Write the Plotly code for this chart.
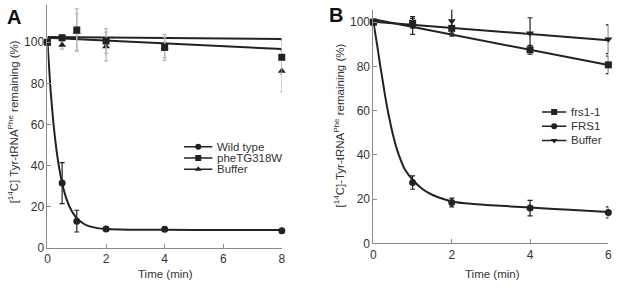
import plotly.graph_objects as go

W, H = 617, 289
FONT = "Arial, Liberation Sans, sans-serif"
DARK = "#222222"
AXC = "#8a8a8a"
TXT = "#333333"

# ---------------- Panel A data ----------------
a_time_wt = [0, 0.5, 1, 2, 4, 8]
a_wt = [100, 31.5, 13, 9.2, 9.0, 8.3]
a_wt_err = [0, 10, 5.3, 0.8, 1.0, 0.5]

a_time_sq = [0, 0.5, 1, 2, 4, 8]
a_sq = [100, 102.2, 106, 100.6, 97.5, 92.7]
a_sq_err = [0, 1.5, 10.3, 6, 6.3, 8.3]

a_time_tri = [0, 0.5, 1, 2, 4, 8]
a_tri = [100, 98.7, 105, 98, 97.5, 86]
a_tri_err = [0, 2, 9, 7, 5, 10]

# fitted curves
a_fit_wt_t = [0, 0.1, 0.2, 0.3, 0.4, 0.5, 0.6, 0.75, 1.0, 1.25, 1.5, 2, 2.5, 3, 4, 6, 8]
a_fit_wt_y = [100, 77.8, 61.1, 48.4, 38.8, 31.5, 26.0, 20.1, 14.4, 11.6, 10.2, 9.15, 8.9, 8.8, 8.75, 8.7, 8.7]
a_fit_sq_t = [0, 8]
a_fit_sq_y = [102.2, 96.7]
a_fit_tri_t = [0, 8]
a_fit_tri_y = [102.6, 101.6]

a_legend = ["Wild type", "pheTG318W", "Buffer"]
a_symbols = ["circle", "square", "triangle-up"]

# ---------------- Panel B data ----------------
b_time = [0, 1, 2, 4, 6]
b_frs11 = [100, 99.5, 97.2, 87.5, 80.7]
b_frs11_err = [0, 2.2, 3.5, 2, 4]
b_FRS1 = [100, 27.5, 18.5, 16, 14]
b_FRS1_err = [0, 3, 2, 3.5, 2.5]
b_buf = [100, 98.5, 100.5, 95, 92.3]
b_buf_err = [0, 4, 5.5, 7, 6.5]

b_fit_frs11_t = [0, 6]
b_fit_frs11_y = [101.3, 80.6]
b_fit_buf_t = [0, 6]
b_fit_buf_y = [100.2, 91.8]
b_fit_FRS1_t = [0, 0.05, 0.1, 0.15, 0.2, 0.3, 0.4, 0.5, 0.6, 0.7, 0.8, 1.0, 1.25, 1.5, 1.75, 2, 2.5, 3, 4, 5, 6]
b_fit_FRS1_y = [100, 94.5, 89, 83, 77.5, 66.5, 57, 49, 42.5, 37.5, 33.5, 28.8, 24.6, 22.0, 20.3, 19.0, 17.9, 17.3, 16.2, 15.2, 14.2]

b_legend = ["frs1-1", "FRS1", "Buffer"]
b_symbols = ["square", "circle", "triangle-down"]

fig = go.Figure()


def fit(x, y, xa, ya, shape="linear"):
    fig.add_trace(go.Scatter(x=x, y=y, mode="lines", xaxis=xa, yaxis=ya,
                             line=dict(color=DARK, width=2, shape=shape, smoothing=0.6),
                             showlegend=False, hoverinfo="skip"))


def pts(x, y, err, sym, xa, ya, ecolor=DARK, ew=2.5, size=7):
    fig.add_trace(go.Scatter(x=x, y=y, mode="markers", xaxis=xa, yaxis=ya,
                             marker=dict(symbol=sym, size=size, color=DARK),
                             error_y=dict(type="data", array=err, visible=True,
                                          color=ecolor, thickness=1.2, width=ew),
                             cliponaxis=False, showlegend=False))


# Panel A
fit(a_fit_wt_t, a_fit_wt_y, "x", "y", "spline")
fit(a_fit_sq_t, a_fit_sq_y, "x", "y")
fit(a_fit_tri_t, a_fit_tri_y, "x", "y")
pts(a_time_wt, a_wt, a_wt_err, "circle", "x", "y")
pts(a_time_tri, a_tri, a_tri_err, "triangle-up", "x", "y", ecolor="#b5b5b5", ew=2)
pts(a_time_sq, a_sq, a_sq_err, "square", "x", "y", ecolor="#b5b5b5", ew=2)

# Panel B
fit(b_fit_FRS1_t, b_fit_FRS1_y, "x2", "y2", "spline")
fit(b_fit_frs11_t, b_fit_frs11_y, "x2", "y2")
fit(b_fit_buf_t, b_fit_buf_y, "x2", "y2")
pts(b_time, b_FRS1, b_FRS1_err, "circle", "x2", "y2")
pts(b_time, b_buf, b_buf_err, "triangle-down", "x2", "y2")
pts(b_time, b_frs11, b_frs11_err, "square", "x2", "y2")

# custom legends (compact rows)
annotations = []
for labels, syms, xa, ya, xtext in [(a_legend, a_symbols, "x3", "y3", 214 / W),
                                    (b_legend, b_symbols, "x4", "y4", 573 / W)]:
    for i, (lab, sym) in enumerate(zip(labels, syms)):
        fig.add_trace(go.Scatter(x=[0, 0.5, 1], y=[i, i, i], mode="lines", xaxis=xa, yaxis=ya,
                                 line=dict(color=DARK, width=1.5), showlegend=False, hoverinfo="skip"))
        fig.add_trace(go.Scatter(x=[0.5], y=[i], mode="markers", xaxis=xa, yaxis=ya,
                                 marker=dict(symbol=sym, size=6, color=DARK),
                                 showlegend=False, hoverinfo="skip"))
        annotations.append(dict(x=xtext, xref="paper", y=i, yref=ya, text=lab, showarrow=False,
                                xanchor="left", yanchor="middle",
                                font=dict(family=FONT, size=11.5, color=TXT)))


def px_x(p):
    return p / W


def px_y(p):
    return (H - p) / H


axis_common = dict(showline=True, linecolor=AXC, linewidth=1, ticks="inside", ticklen=4,
                   tickcolor=AXC, tickwidth=1, showgrid=False, zeroline=False,
                   tickfont=dict(family=FONT, size=12, color=TXT), fixedrange=True)

layout = dict(
    width=W, height=H, margin=dict(l=0, r=0, t=0, b=0),
    paper_bgcolor="white", plot_bgcolor="white", showlegend=False,
    xaxis=dict(domain=[px_x(45), px_x(282)], range=[0, 8], tickvals=[0, 2, 4, 6, 8],
               anchor="y", **axis_common),
    yaxis=dict(domain=[px_y(254), px_y(5)], range=[0, 118.2], tickvals=[0, 20, 40, 60, 80, 100],
               anchor="x", **axis_common),
    xaxis2=dict(domain=[px_x(374.7), px_x(612.3)], range=[0, 6], tickvals=[0, 2, 4, 6],
                anchor="y2", **axis_common),
    yaxis2=dict(domain=[px_y(249.5), px_y(10)], range=[0, 105.6], tickvals=[0, 20, 40, 60, 80, 100],
                anchor="x2", **axis_common),
    xaxis3=dict(domain=[px_x(183), px_x(212)], range=[0, 1], visible=False, anchor="y3", fixedrange=True),
    yaxis3=dict(domain=[px_y(179.25), px_y(144.75)], range=[2.5, -0.5], visible=False, anchor="x3",
                fixedrange=True),
    xaxis4=dict(domain=[px_x(545), px_x(570)], range=[0, 1], visible=False, anchor="y4", fixedrange=True),
    yaxis4=dict(domain=[px_y(151.2), px_y(107.4)], range=[2.5, -0.5], visible=False, anchor="x4",
                fixedrange=True),
)

# panel letters, axis titles
annotations += [
    dict(x=px_x(2), y=px_y(4), xref="paper", yref="paper", text="<b>A</b>", showarrow=False,
         xanchor="left", yanchor="top", font=dict(family=FONT, size=20, color="#111")),
    dict(x=px_x(328), y=px_y(2), xref="paper", yref="paper", text="<b>B</b>", showarrow=False,
         xanchor="left", yanchor="top", font=dict(family=FONT, size=20, color="#111")),
    dict(x=px_x(10.5), y=px_y(125), xref="paper", yref="paper", textangle=-90,
         text="[<sup>14</sup>C] Tyr-tRNA<sup>Phe</sup> remaining (%)", showarrow=False,
         xanchor="center", yanchor="middle", font=dict(family=FONT, size=11.5, color=TXT)),
    dict(x=px_x(340), y=px_y(128.5), xref="paper", yref="paper", textangle=-90,
         text="[<sup>14</sup>C]-Tyr-tRNA<sup>Phe</sup> remaining (%)", showarrow=False,
         xanchor="center", yanchor="middle", font=dict(family=FONT, size=11.5, color=TXT)),
    dict(x=px_x(164), y=px_y(281), xref="paper", yref="paper", text="Time (min)", showarrow=False,
         xanchor="center", yanchor="middle", font=dict(family=FONT, size=11.5, color=TXT)),
    dict(x=px_x(495), y=px_y(281), xref="paper", yref="paper", text="Time (min)", showarrow=False,
         xanchor="center", yanchor="middle", font=dict(family=FONT, size=11.5, color=TXT)),
]
layout["annotations"] = annotations
fig.update_layout(**layout)

fig.write_html("out.html", config=dict(displayModeBar=False, staticPlot=True),
               post_script="document.body.style.margin='0';document.body.style.overflow='hidden';")
